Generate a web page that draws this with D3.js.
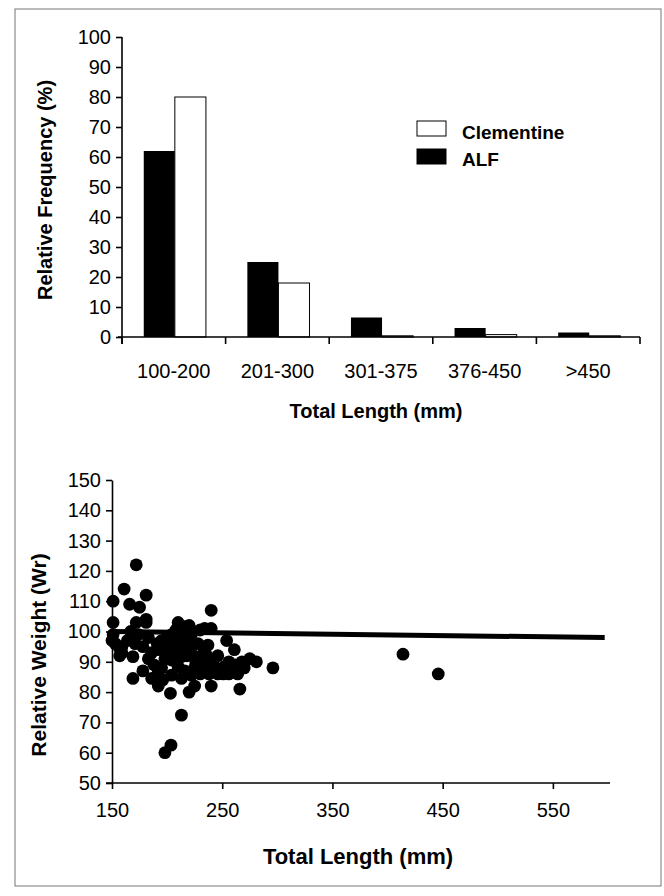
<!DOCTYPE html>
<html>
<head>
<meta charset="utf-8">
<script src="https://cdn.jsdelivr.net/npm/d3@7"></script>
<style>
  html, body { margin: 0; padding: 0; background: #fff; }
  svg { display: block; font-family: "Liberation Sans", Arial, Helvetica, sans-serif; }
  .domain, .tick line { stroke: #000; stroke-width: 1.6; }
</style>
</head>
<body>
<svg id="chart" width="664" height="896"></svg>
<script>
// ---------- Data: top chart (relative frequency by length class) ----------
const categories = ["100-200", "201-300", "301-375", "376-450", ">450"];
const seriesNames = ["ALF", "Clementine"];
const alfValues = [62, 25, 6.5, 3, 1.5];
const clementineValues = [80, 18, 0.4, 0.8, 0.4];
const freqTicks = [0, 10, 20, 30, 40, 50, 60, 70, 80, 90, 100];

// ---------- Data: bottom chart (relative weight vs total length) ----------
const lengthValues = [
  151, 151, 151, 150, 153, 157, 159, 157, 159,
  172, 161, 181, 166, 175, 240, 181, 172, 181,
  174, 183, 171, 169, 183, 192, 195, 204, 208, 213, 216, 210, 220, 222, 230, 234, 240,
  216, 222, 237, 233, 254, 261, 275, 281, 296, 266,
  200, 208, 198, 204, 213, 210, 216, 225, 234, 243, 252, 262, 268, 251, 260, 204, 213, 222, 192, 178, 169, 186, 192, 203, 220, 225, 240,
  213, 203.5, 198, 414, 446,
  186, 191, 206, 212, 218, 226, 230, 238, 246, 256,
  195, 200, 205, 209, 214, 219, 224, 228, 232, 236, 241, 246, 256, 264, 270, 164, 167, 178, 188, 196
];
const weightValues = [
  110, 103, 99, 97, 96, 94.5, 93, 92, 95,
  122, 114, 112, 109, 108, 107, 104, 103, 103,
  99, 98, 96, 91.7, 91, 94, 97, 99, 100.5, 99, 101.6, 103, 102, 99, 100.5, 101, 101,
  97, 95, 95.5, 93, 97, 94, 91, 90, 88, 81,
  94, 95, 91, 90.6, 91.7, 88.4, 87, 88, 88.4, 88.4, 88.4, 89, 90, 86, 86.7, 85.6, 84.5, 85.6, 86.7, 87, 84.5, 84.5, 82, 79.6, 80, 82, 82,
  72.4, 62.5, 60, 92.5, 86,
  93, 96, 97, 94, 92, 90, 86, 86, 86, 90,
  88, 98, 93, 97, 96, 94, 92, 96, 90, 92, 90, 92, 86, 86, 88, 97, 100, 95, 89, 84
];
const trendX = [150, 597];
const trendY = [100, 98];
const lengthTicks = [150, 250, 350, 450, 550];
const weightTicks = [50, 60, 70, 80, 90, 100, 110, 120, 130, 140, 150];

const svg = d3.select("#chart");

// page frame
svg.append("rect").attr("x", 15).attr("y", 9).attr("width", 646).attr("height", 877)
  .attr("fill", "none").attr("stroke", "#777").attr("stroke-width", 1);

// ================= TOP: bar chart =================
const yTop = d3.scaleLinear().domain([0, 100]).range([337, 37]);
const xTop = d3.scaleBand().domain(categories).range([122, 640]);
const bw = xTop.bandwidth();
const xInner = d3.scaleBand().domain(seriesNames).range([bw * 0.21, bw * 0.81]);

const topG = svg.append("g");
const barData = [];
categories.forEach((c, i) => {
  barData.push({ cat: c, s: "ALF", v: alfValues[i] });
  barData.push({ cat: c, s: "Clementine", v: clementineValues[i] });
});
topG.selectAll("rect.bar").data(barData).enter().append("rect")
  .attr("class", "bar")
  .attr("x", d => xTop(d.cat) + xInner(d.s))
  .attr("y", d => yTop(d.v))
  .attr("width", xInner.bandwidth())
  .attr("height", d => yTop(0) - yTop(d.v))
  .attr("fill", d => d.s === "ALF" ? "#000" : "#fff")
  .attr("stroke", "#000")
  .attr("stroke-width", d => d.s === "ALF" ? 0 : 1);

// y axis top
const yAxisTop = topG.append("g").attr("transform", "translate(122,0)")
  .call(d3.axisLeft(yTop).tickValues(freqTicks).tickSize(6).tickSizeOuter(0).tickPadding(5));
yAxisTop.selectAll("text").attr("font-size", 20).attr("fill", "#000").attr("font-family", "Liberation Sans, Arial, sans-serif");
yAxisTop.select(".domain").attr("d", "M0,37V344");

// x axis top (ticks at category boundaries)
const xAxisTop = topG.append("g");
xAxisTop.append("line").attr("x1", 118).attr("x2", 640).attr("y1", yTop(0)).attr("y2", yTop(0))
  .attr("stroke", "#000").attr("stroke-width", 1.6);
const bounds = categories.map(c => xTop(c)).concat([xTop.range()[1]]);
xAxisTop.selectAll("line.bt").data(bounds).enter().append("line")
  .attr("class", "bt")
  .attr("x1", d => d).attr("x2", d => d)
  .attr("y1", yTop(0)).attr("y2", yTop(0) + 7)
  .attr("stroke", "#000").attr("stroke-width", 1.6);
xAxisTop.selectAll("text").data(categories).enter().append("text")
  .attr("x", d => xTop(d) + bw / 2)
  .attr("y", 378)
  .attr("text-anchor", "middle")
  .attr("font-size", 20)
  .text(d => d);

topG.append("text").attr("x", 376).attr("y", 418).attr("text-anchor", "middle")
  .attr("font-size", 20).attr("font-weight", "bold").text("Total Length (mm)");
topG.append("text").attr("transform", "translate(52,190) rotate(-90)")
  .attr("text-anchor", "middle").attr("font-size", 20).attr("font-weight", "bold")
  .text("Relative Frequency (%)");

// legend
const legend = topG.append("g");
const legendItems = ["Clementine", "ALF"];
legend.selectAll("rect").data(legendItems).enter().append("rect")
  .attr("x", 417).attr("y", (d, i) => 121 + i * 28)
  .attr("width", 29).attr("height", 15)
  .attr("fill", d => d === "ALF" ? "#000" : "#fff")
  .attr("stroke", "#000").attr("stroke-width", 1);
legend.selectAll("text").data(legendItems).enter().append("text")
  .attr("x", 462).attr("y", (d, i) => 139 + i * 27)
  .attr("font-size", 19).attr("font-weight", "bold").text(d => d);

// ================= BOTTOM: scatter =================
const yBot = d3.scaleLinear().domain([50, 150]).range([783, 480]);
const xBot = d3.scaleLinear().domain([150, 600]).range([112, 608]);
const botG = svg.append("g");

const yAxisBot = botG.append("g").attr("transform", "translate(112,0)")
  .call(d3.axisLeft(yBot).tickValues(weightTicks).tickSize(6).tickSizeOuter(0).tickPadding(5));
yAxisBot.selectAll("text").attr("font-size", 20).attr("fill", "#000").attr("font-family", "Liberation Sans, Arial, sans-serif");

const xAxisBot = botG.append("g").attr("transform", "translate(0,783)")
  .call(d3.axisBottom(xBot).tickValues(lengthTicks).tickSize(6).tickSizeOuter(0).tickPadding(14));
xAxisBot.selectAll("text").attr("font-size", 20).attr("fill", "#000").attr("font-family", "Liberation Sans, Arial, sans-serif");
xAxisBot.select(".domain").attr("d", "M106,0H610");

// trend line
botG.append("path")
  .datum(trendX.map((x, i) => [x, trendY[i]]))
  .attr("d", d3.line().x(d => xBot(d[0])).y(d => yBot(d[1])))
  .attr("stroke", "#000").attr("stroke-width", 5).attr("fill", "none");

// points
botG.selectAll("circle").data(lengthValues.map((x, i) => [x, weightValues[i]])).enter()
  .append("circle")
  .attr("cx", d => xBot(d[0])).attr("cy", d => yBot(d[1]))
  .attr("r", 6.4).attr("fill", "#000");

botG.append("text").attr("x", 358).attr("y", 864).attr("text-anchor", "middle")
  .attr("font-size", 22).attr("font-weight", "bold").text("Total Length (mm)");
botG.append("text").attr("transform", "translate(46,655) rotate(-90)")
  .attr("text-anchor", "middle").attr("font-size", 21).attr("font-weight", "bold")
  .text("Relative Weight (Wr)");
</script>
</body>
</html>
